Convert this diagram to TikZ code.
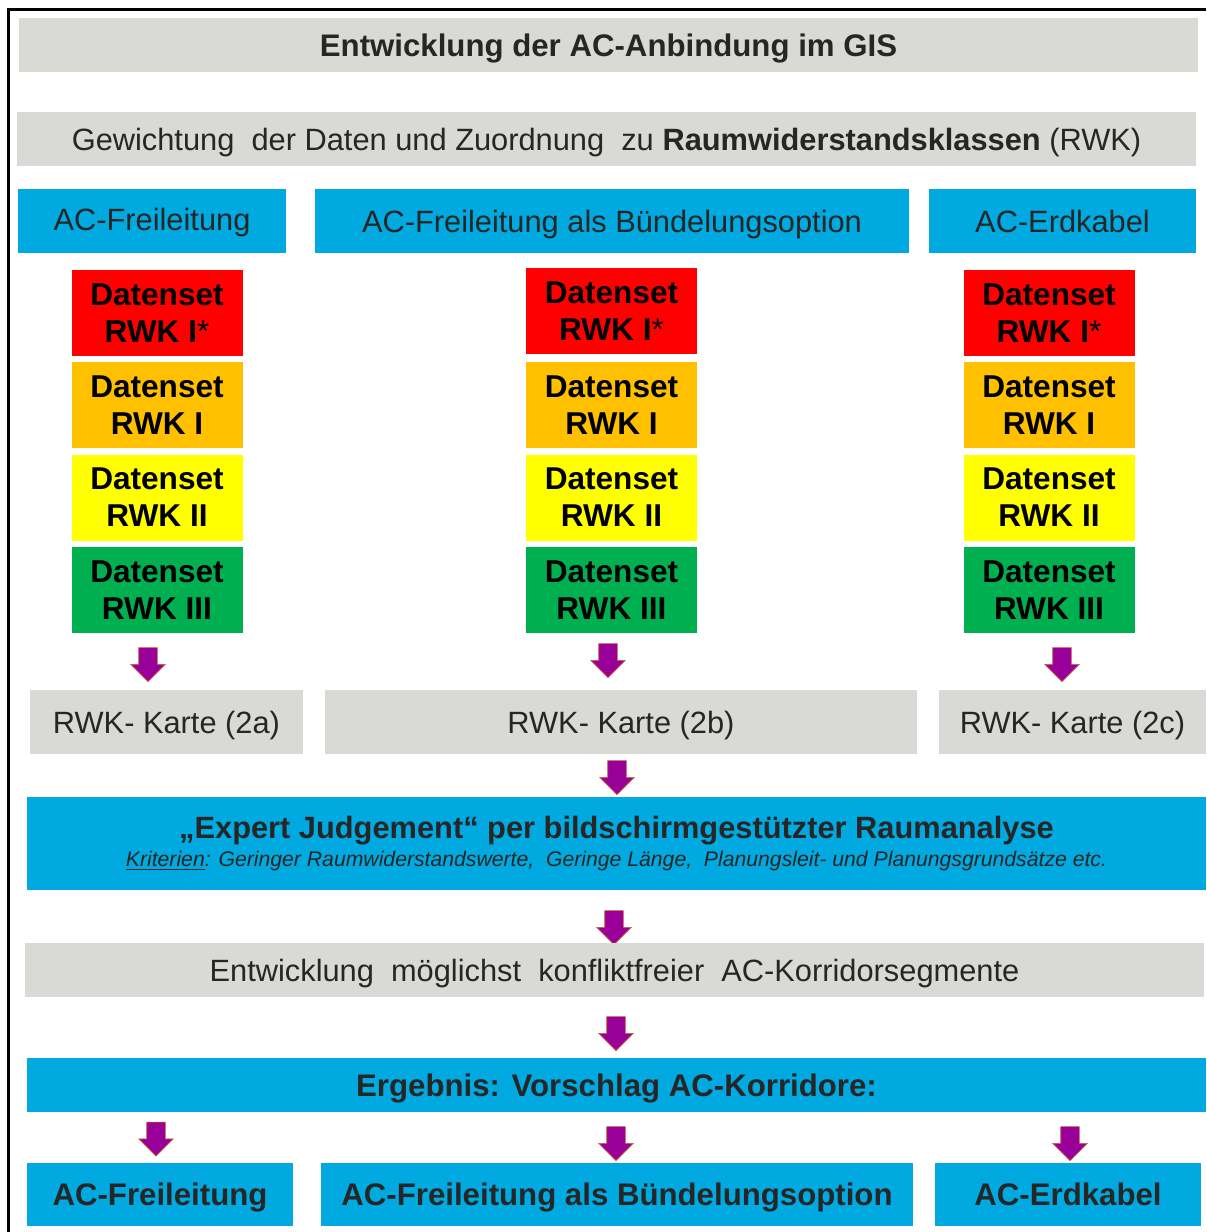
\documentclass[tikz,border=0pt]{standalone}
\usepackage{fontspec}
\setmainfont{Liberation Sans}
\usetikzlibrary{positioning, shapes.arrows}
\definecolor{acblue}{RGB}{0,169,224}
\definecolor{boxgray}{RGB}{217,217,214}
\definecolor{rwkred}{RGB}{255,0,0}
\definecolor{rwkorange}{RGB}{255,192,0}
\definecolor{rwkyellow}{RGB}{255,255,0}
\definecolor{rwkgreen}{RGB}{0,176,80}
\definecolor{arrowpurple}{RGB}{153,0,153}
\definecolor{arrowrim}{RGB}{204,102,51}
\newcommand{\tbf}[1]{\textbf{#1}}
\newcommand{\tit}[1]{\textit{#1}}

\begin{document}
\begin{tikzpicture}[x=0.5pt, y=-0.5pt,
	panel/.style={rectangle, inner sep=0pt, text=black!85, font=\fontsize{15.4}{18}\selectfont},
	graybox/.style={panel, fill=boxgray, minimum height=27pt, text height=13pt, text depth=2pt},
	bluebox/.style={panel, fill=acblue, minimum height=32pt, text height=13pt, text depth=2pt},
	boldtext/.style={font=\fontsize{15.6}{18}\selectfont\bfseries},
	dataset/.style={rectangle, minimum width=85.5pt, minimum height=43pt, inner sep=0pt, align=center, font=\fontsize{15.8}{18.5}\selectfont\bfseries},
	blockarrow/.style={single arrow, rotate=-90, fill=arrowpurple, draw=arrowrim, line width=0.3pt, minimum height=17pt, inner sep=4.5pt, single arrow head extend=4pt}]
	\useasboundingbox (0, 0) rectangle (1206, 1232);
	\draw[line width=1.5pt] (1206, 9) -- (8, 9) -- (8, 1232);

	\node[graybox, boldtext, minimum width=589.5pt] (title) at (608.5, 45) {Entwicklung der AC-Anbindung im\ GIS};
	\node[graybox, minimum width=589.5pt] (weighting) at (606.5, 139) {Gewichtung\ \ der Daten und Zuordnung\ \ zu \tbf{Raumwiderstandsklassen} (RWK)};

	\node[bluebox, minimum width=134pt, text depth=3pt] (head1) at (152, 220.5) {AC-Freileitung};
	\node[bluebox, minimum width=297pt] (head2) at (612, 221) {AC-Freileitung als Bündelungsoption};
	\node[bluebox, minimum width=133.5pt] (head3) at (1062.5, 221) {AC-Erdkabel};

	\node[dataset, fill=rwkred] (ds1a) at (157, 313) {Datenset\\RWK I\textmd{*}};
	\node[dataset, fill=rwkorange] (ds1b) at (157, 405) {Datenset\\RWK I};
	\node[dataset, fill=rwkyellow] (ds1c) at (157, 497.5) {Datenset\\RWK II};
	\node[dataset, fill=rwkgreen] (ds1d) at (157, 590) {Datenset\\RWK III};
	\node[dataset, fill=rwkred] (ds2a) at (611.5, 311) {Datenset\\RWK I\textmd{*}};
	\node[dataset, fill=rwkorange] (ds2b) at (611.5, 405) {Datenset\\RWK I};
	\node[dataset, fill=rwkyellow] (ds2c) at (611.5, 497.5) {Datenset\\RWK II};
	\node[dataset, fill=rwkgreen] (ds2d) at (611.5, 590) {Datenset\\RWK III};
	\node[dataset, fill=rwkred] (ds3a) at (1049, 313) {Datenset\\RWK I\textmd{*}};
	\node[dataset, fill=rwkorange] (ds3b) at (1049, 405) {Datenset\\RWK I};
	\node[dataset, fill=rwkyellow] (ds3c) at (1049, 497.5) {Datenset\\RWK II};
	\node[dataset, fill=rwkgreen] (ds3d) at (1049, 590) {Datenset\\RWK III};

	\node[blockarrow] (arr1) at (148, 660) {};
	\node[blockarrow] (arr2) at (608, 656) {};
	\node[blockarrow] (arr3) at (1062, 660) {};

	\node[graybox, minimum width=136.5pt, minimum height=32pt] (map1) at (166.5, 722) {RWK- Karte (2a)};
	\node[graybox, minimum width=296pt, minimum height=32pt] (map2) at (621, 722) {RWK- Karte (2b)};
	\node[graybox, minimum width=133.5pt, minimum height=32pt] (map3) at (1072.5, 722) {RWK- Karte (2c)};

	\node[blockarrow] (arr4) at (617, 773) {};
	\node[panel, fill=acblue, minimum width=589.5pt, minimum height=46.5pt, align=center] (expert) at (616.5, 843.5) {\tbf{„Expert Judgement“ per bildschirmgestützter Raumanalyse}\\[-4pt]{\fontsize{10.6}{12}\selectfont\tit{\underline{Kriterien}: Geringer Raumwiderstandswerte,\ \ Geringe Länge,\ \ Planungsleit- und Planungsgrundsätze etc.}}};

	\node[blockarrow] (arr5) at (614, 923) {};
	\node[graybox, minimum width=589.5pt] (segments) at (614.5, 970) {Entwicklung\ \ möglichst\ \ konfliktfreier\ \ AC-Korridorsegmente};

	\node[blockarrow] (arr6) at (616, 1029) {};
	\node[bluebox, boldtext, minimum width=589.5pt, minimum height=27pt] (result) at (616.5, 1085) {Ergebnis: Vorschlag AC-Korridore:};

	\node[blockarrow] (arr7) at (156, 1134.5) {};
	\node[blockarrow] (arr8) at (616, 1139) {};
	\node[blockarrow] (arr9) at (1070, 1139) {};

	\node[bluebox, boldtext, minimum width=133pt, minimum height=31.5pt] (out1) at (160, 1194.5) {AC-Freileitung};
	\node[bluebox, boldtext, minimum width=296pt, minimum height=31.5pt] (out2) at (617, 1194.5) {AC-Freileitung als Bündelungsoption};
	\node[bluebox, boldtext, minimum width=133pt, minimum height=31.5pt] (out3) at (1068, 1194.5) {AC-Erdkabel};
\end{tikzpicture}
\end{document}
